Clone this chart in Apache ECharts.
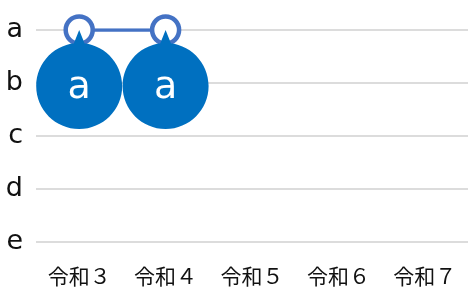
<!DOCTYPE html>
<html>
<head>
<meta charset="UTF-8">
<title></title>
<script src="https://cdn.jsdelivr.net/npm/echarts@6/dist/echarts.min.js"></script>
<style>
  html, body { margin: 0; padding: 0; background: #fff; }
  #main { width: 468px; height: 291px; }
</style>
</head>
<body>
<div id="main"></div>
<script>
// data
var years = ['令和３', '令和４', '令和５', '令和６', '令和７'];
var levels = ['a', 'b', 'c', 'd', 'e'];
var values = ['a', 'a'];

// pin: small tip on top, big circle below (bezier circle, no arcs)
var pinPath = 'path://M43 0 L51 20 L35 20 Z ' +
  'M43 13 C66.75 13 86 32.25 86 56 C86 79.75 66.75 99 43 99 ' +
  'C19.25 99 0 79.75 0 56 C0 32.25 19.25 13 43 13 Z';

var pins = [];
for (var i = 0; i < values.length; i++) {
  pins.push({ coord: [i, values[i]], value: values[i] });
}

var chart = echarts.init(document.getElementById('main'));
chart.setOption({
  animation: false,
  grid: { left: 36, right: 0, top: 30, bottom: 49 },
  xAxis: {
    type: 'category',
    data: years,
    axisLine: { show: false },
    axisTick: { show: false },
    axisLabel: {
      margin: 24,
      fontSize: 21,
      color: '#111',
      fontFamily: 'Noto Sans CJK JP'
    }
  },
  yAxis: {
    type: 'category',
    data: levels,
    inverse: true,
    boundaryGap: false,
    axisLine: { show: false },
    axisTick: { show: false },
    axisLabel: {
      margin: 13,
      fontSize: 27,
      color: '#111',
      fontFamily: 'DejaVu Sans'
    },
    splitLine: { show: true, lineStyle: { color: '#dcdcdc', width: 2 } }
  },
  series: [{
    type: 'line',
    data: values,
    symbol: 'circle',
    symbolSize: 27,
    lineStyle: { color: '#4472C4', width: 3.5 },
    itemStyle: { color: '#fff', borderWidth: 4.5, borderColor: '#4472C4' },
    markPoint: {
      symbol: pinPath,
      symbolSize: [86, 99],
      symbolOffset: [0, 49.5],
      itemStyle: { color: '#0070C0', borderWidth: 0 },
      label: {
        show: true,
        position: 'inside',
        offset: [0, 9],
        color: '#fff',
        fontSize: 38,
        fontFamily: 'DejaVu Sans',
        formatter: function (p) { return p.value; }
      },
      data: pins
    }
  }]
});
</script>
</body>
</html>
